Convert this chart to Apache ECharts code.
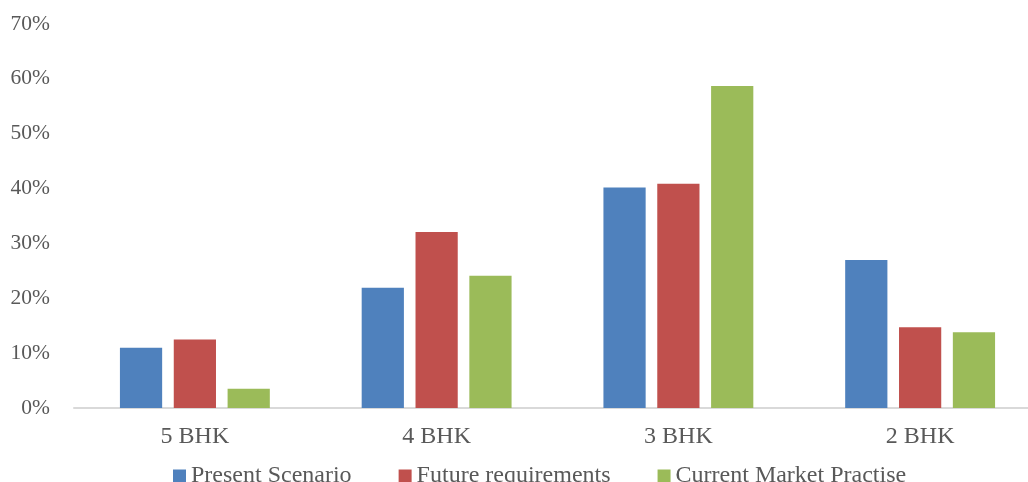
<!DOCTYPE html>
<html>
<head>
<meta charset="utf-8">
<script src="https://cdn.jsdelivr.net/npm/echarts@6/dist/echarts.min.js"></script>
<style>
  html, body { margin: 0; padding: 0; background: #fff; overflow: hidden; }
  #chart { width: 1028px; height: 482px; }
</style>
</head>
<body>
<div id="chart"></div>
<script>
// Flat configurations and their share (%) under each view
const categories = ['5 BHK', '4 BHK', '3 BHK', '2 BHK'];
const presentScenario = [11.0, 21.9, 40.2, 27.0];
const futureRequirements = [12.5, 32.1, 40.9, 14.7];
const currentMarketPractise = [3.5, 24.1, 58.7, 13.8];
const seriesNames = ['Present Scenario', 'Future requirements', 'Current Market Practise'];

const font = '"Liberation Serif", "Times New Roman", serif';
const textColor = '#595959';

const chart = echarts.init(document.getElementById('chart'));

function bar(name, data, color) {
  return {
    name: name,
    type: 'bar',
    data: data,
    barGap: '27.5%',
    barCategoryGap: '38%',
    itemStyle: { color: color },
    emphasis: { disabled: true }
  };
}

chart.setOption({
  animation: false,
  textStyle: { fontFamily: font },
  // the plot runs slightly past the right edge of the canvas
  grid: {
    left: 74, width: 967, top: 24, bottom: 74,
    containLabel: false, outerBoundsMode: 'none'
  },
  legend: {
    top: 459,
    left: 168,
    itemWidth: 13,
    itemHeight: 13,
    itemGap: 47,
    icon: 'rect',
    textStyle: { fontFamily: font, fontSize: 24, lineHeight: 24, color: textColor },
    data: seriesNames
  },
  xAxis: {
    type: 'category',
    data: categories,
    axisLine: { lineStyle: { color: '#d9d9d9', width: 2 } },
    axisTick: { show: false },
    axisLabel: { fontFamily: font, fontSize: 24, color: textColor, margin: 17 }
  },
  yAxis: {
    type: 'value',
    min: 0,
    max: 70,
    interval: 10,
    splitLine: { show: false },
    axisLine: { show: false },
    axisTick: { show: false },
    axisLabel: {
      fontFamily: font, fontSize: 21.5, color: textColor, margin: 24,
      formatter: v => v + '%'
    }
  },
  series: [
    bar(seriesNames[0], presentScenario, '#4f81bd'),
    bar(seriesNames[1], futureRequirements, '#c0504d'),
    bar(seriesNames[2], currentMarketPractise, '#9bbb59')
  ]
});
</script>
</body>
</html>
